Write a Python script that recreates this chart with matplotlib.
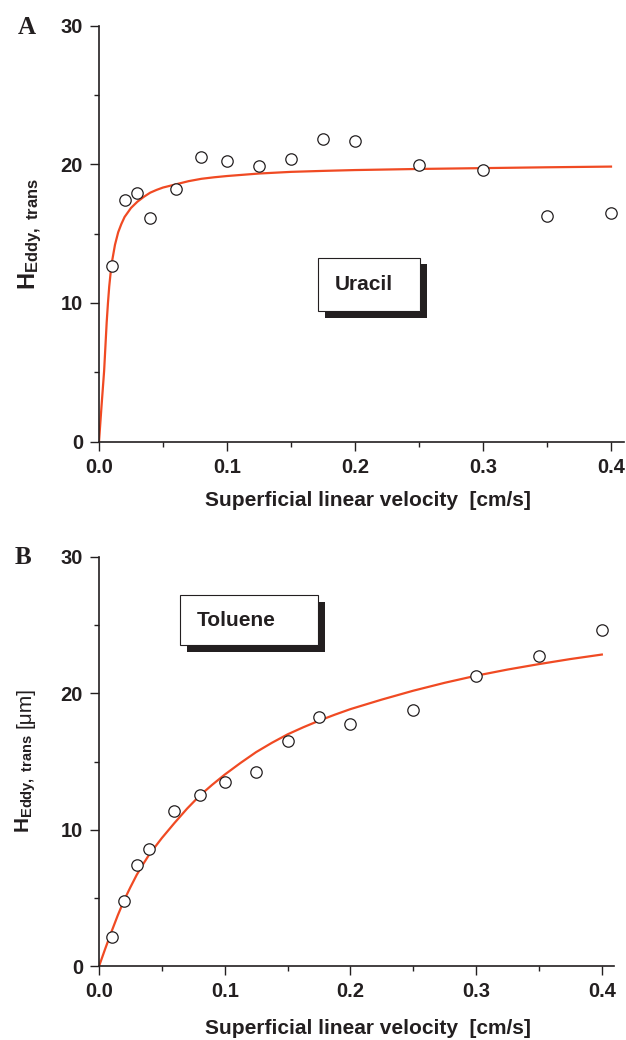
import matplotlib
matplotlib.use('Agg')
import matplotlib.pyplot as plt
from matplotlib.patches import Rectangle
from matplotlib.ticker import MultipleLocator

plt.rcParams['font.family'] = ['Liberation Sans', 'DejaVu Sans']
plt.rcParams['font.weight'] = 'bold'
plt.rcParams['mathtext.fontset'] = 'custom'
plt.rcParams['mathtext.rm'] = 'Liberation Sans:bold'
plt.rcParams['mathtext.it'] = 'Liberation Sans:bold'
plt.rcParams['mathtext.bf'] = 'Liberation Sans:bold'

# ---------------- data ----------------
# Panel A: Uracil
uracil_u = [0.01, 0.02, 0.03, 0.04, 0.06, 0.08, 0.10, 0.125, 0.15, 0.175, 0.20, 0.25, 0.30, 0.35, 0.40]
uracil_h = [12.67, 17.4, 17.95, 16.1, 18.25, 20.5, 20.2, 19.9, 20.4, 21.8, 21.65, 19.95, 19.57, 16.3, 16.47]
uracil_fit_u = [0, 0.001, 0.002, 0.003, 0.004, 0.005, 0.006, 0.007, 0.008, 0.009, 0.01, 0.0125,
                0.015, 0.0175, 0.02, 0.025, 0.03, 0.035, 0.04, 0.045, 0.05, 0.06, 0.07, 0.08,
                0.09, 0.10, 0.125, 0.15, 0.175, 0.20, 0.25, 0.30, 0.35, 0.40]
uracil_fit_h = [0, 1.3, 2.6, 3.85, 5.1, 6.85, 8.6, 10.0, 11.2, 12.1, 12.9, 14.2,
                15.1, 15.7, 16.2, 16.85, 17.3, 17.65, 17.95, 18.15, 18.32, 18.55, 18.78, 18.95,
                19.06, 19.15, 19.33, 19.45, 19.52, 19.58, 19.66, 19.72, 19.78, 19.83]

# Panel B: Toluene
toluene_u = [0.01, 0.02, 0.03, 0.04, 0.06, 0.08, 0.10, 0.125, 0.15, 0.175, 0.20, 0.25, 0.30, 0.35, 0.40]
toluene_h = [2.13, 4.82, 7.43, 8.63, 11.35, 12.52, 13.52, 14.21, 16.48, 18.25, 17.78, 18.78, 21.25, 22.74, 24.67]
toluene_fit_u = [0, 0.005, 0.01, 0.015, 0.02, 0.025, 0.03, 0.035, 0.04, 0.05, 0.06, 0.07,
                 0.08, 0.09, 0.10, 0.1125, 0.125, 0.1375, 0.15, 0.1625, 0.175, 0.1875,
                 0.20, 0.225, 0.25, 0.275, 0.30, 0.325, 0.35, 0.375, 0.40]
toluene_fit_h = [0, 1.3, 2.55, 3.75, 4.85, 5.8, 6.7, 7.47, 8.2, 9.4, 10.5, 11.55,
                 12.5, 13.3, 14.05, 14.9, 15.7, 16.38, 17.0, 17.52, 18.0, 18.44,
                 18.85, 19.55, 20.2, 20.78, 21.3, 21.75, 22.15, 22.52, 22.85]

x_label = 'Superficial linear velocity  [cm/s]'
y_label = r'$\mathrm{H}_{\mathrm{Eddy,\ trans}}$'
y_unit_b = '[μm]'

LINE_C = '#f04a23'
DARK = '#231f20'
W, H = 626, 1040

fig = plt.figure(figsize=(W / 100, H / 100), dpi=100)
axA = fig.add_axes([99 / W, 1 - 441.7 / H, 524.8 / W, 416.2 / H])
axB = fig.add_axes([99 / W, 1 - 966.3 / H, 515.4 / W, 409.3 / H])


def style(ax, lpad, lx):
    ax.set_xlim(0, 0.41)
    ax.set_ylim(0, 30)
    for s in ('top', 'right'):
        ax.spines[s].set_visible(False)
    for s in ('left', 'bottom'):
        ax.spines[s].set_linewidth(1.2)
        ax.spines[s].set_color(DARK)
    ax.xaxis.set_major_locator(MultipleLocator(0.1))
    ax.xaxis.set_minor_locator(MultipleLocator(0.05))
    ax.yaxis.set_major_locator(MultipleLocator(10))
    ax.yaxis.set_minor_locator(MultipleLocator(5))
    ax.tick_params(which='major', direction='out', length=6.5, width=1.0,
                   labelsize=14.5, pad=5, colors=DARK)
    ax.tick_params(which='minor', direction='out', length=3.5, width=1.0, colors=DARK)
    ax.set_xlabel(x_label, fontsize=15, fontweight='bold', labelpad=lpad, color=DARK)
    ax.xaxis.label.set_x(lx)


def panel(ax, u, h, fu, fh):
    ax.plot(fu, fh, color=LINE_C, lw=1.6, zorder=2)
    ax.plot(u, h, linestyle='none', marker='o', ms=8.2, mfc='white',
            mec=DARK, mew=0.9, zorder=3, clip_on=False)


def shadow_box(x0, y0, x1, y1, off, text, tx):
    # pixel coords (top-left origin) -> figure fraction
    def fx(x):
        return x / W

    def fy(y):
        return 1 - y / H
    fig.add_artist(Rectangle((fx(x0 + off), fy(y1 + off)), (x1 - x0) / W, (y1 - y0) / H,
                             transform=fig.transFigure, facecolor=DARK, edgecolor=DARK, lw=0))
    fig.add_artist(Rectangle((fx(x0), fy(y1)), (x1 - x0) / W, (y1 - y0) / H,
                             transform=fig.transFigure, facecolor='white', edgecolor=DARK, lw=0.8))
    fig.text(fx(tx), fy((y0 + y1) / 2), text, fontsize=15, fontweight='bold',
             ha='left', va='center', color=DARK)


style(axA, 10, 0.513)
panel(axA, uracil_u, uracil_h, uracil_fit_u, uracil_fit_h)
axA.set_ylabel(y_label, fontsize=17, labelpad=12, color=DARK)

style(axB, 13, 0.522)
panel(axB, toluene_u, toluene_h, toluene_fit_u, toluene_fit_h)
axB.set_ylabel(y_label, fontsize=15, color=DARK)
axB.yaxis.set_label_coords((38 - 99) / 515.4, (966.3 - 783) / 409.3)
fig.text(25 / W, 1 - 708 / H, y_unit_b, rotation=90, fontsize=15, fontweight='normal',
         ha='center', va='center', color=DARK)

shadow_box(318, 258, 420, 311, 6.5, 'Uracil', 335)
shadow_box(180, 595, 318, 645, 6.5, 'Toluene', 197)

fig.text(18 / W, 1 - 27 / H, 'A', family='Liberation Serif', fontweight='bold',
         fontsize=18, ha='left', va='center', color=DARK)
fig.text(15 / W, 1 - 558 / H, 'B', family='Liberation Serif', fontweight='bold',
         fontsize=18, ha='left', va='center', color=DARK)

fig.savefig('out.png', dpi=100, facecolor='white')
